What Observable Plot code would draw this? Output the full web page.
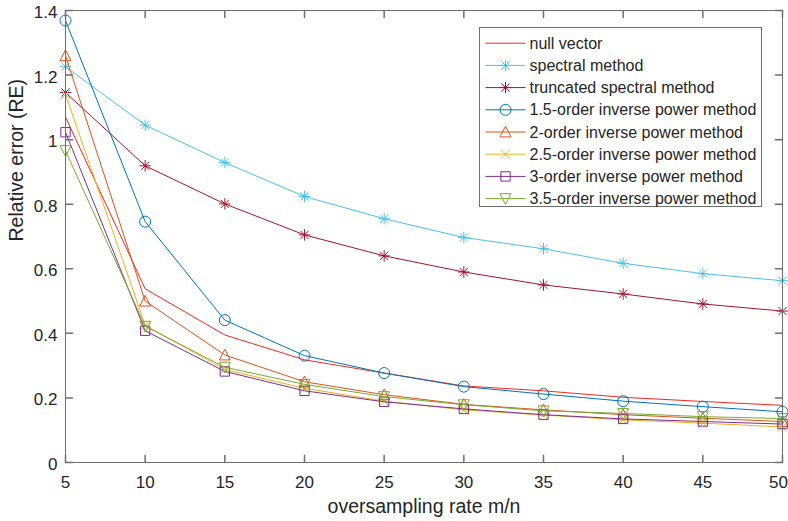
<!DOCTYPE html>
<html>
<head>
<meta charset="utf-8">
<script src="https://cdn.jsdelivr.net/npm/d3@7"></script>
<script src="https://cdn.jsdelivr.net/npm/@observablehq/plot@0.6"></script>
<style>
  html, body { margin: 0; padding: 0; background: #fff; }
  #chart { position: relative; width: 788px; height: 521px; }
</style>
</head>
<body>
<div id="chart"></div>
<script>
// ---- data ----
const rates = [5, 10, 15, 20, 25, 30, 35, 40, 45, 50];
const seriesNames = [
  "null vector",
  "spectral method",
  "truncated spectral method",
  "1.5-order inverse power method",
  "2-order inverse power method",
  "2.5-order inverse power method",
  "3-order inverse power method",
  "3.5-order inverse power method"
];
const nullVector   = [1.070, 0.538, 0.395, 0.318, 0.277, 0.237, 0.222, 0.202, 0.189, 0.177];
const spectral     = [1.226, 1.045, 0.929, 0.824, 0.755, 0.697, 0.662, 0.617, 0.585, 0.563];
const truncated    = [1.146, 0.919, 0.801, 0.705, 0.640, 0.590, 0.550, 0.522, 0.491, 0.469];
const inv15        = [1.369, 0.746, 0.441, 0.331, 0.277, 0.235, 0.212, 0.190, 0.173, 0.157];
const inv2         = [1.260, 0.500, 0.333, 0.250, 0.210, 0.180, 0.163, 0.148, 0.137, 0.127];
const inv25        = [1.140, 0.425, 0.288, 0.230, 0.190, 0.163, 0.147, 0.132, 0.122, 0.110];
const inv3         = [1.023, 0.408, 0.282, 0.222, 0.188, 0.166, 0.148, 0.135, 0.127, 0.119];
const inv35        = [0.966, 0.422, 0.295, 0.242, 0.204, 0.179, 0.160, 0.152, 0.142, 0.136];
const seriesValues = [nullVector, spectral, truncated, inv15, inv2, inv25, inv3, inv35];

const xTicks = [5, 10, 15, 20, 25, 30, 35, 40, 45, 50];
const xTickLabels = ["5", "10", "15", "20", "25", "30", "35", "40", "45", "50"];
const yTicks = [0, 0.2, 0.4, 0.6, 0.8, 1.0, 1.2, 1.4];
const yTickLabels = ["0", "0.2", "0.4", "0.6", "0.8", "1", "1.2", "1.4"];
const xLabel = "oversampling rate m/n";
const yLabel = "Relative error (RE)";

// ---- styles ----
const colors = ["#f0281e", "#4DBEEE", "#A2142F", "#0072BD", "#D95319", "#EDB120", "#7E2F8E", "#77AC30"];
const R = (size) => Math.sqrt(size / Math.PI);
const symNone = null;
const symAsterisk = { draw(c, s) { const r = R(s) * 1.05, d = r * 0.7071;
  c.moveTo(0, -r); c.lineTo(0, r); c.moveTo(-r, 0); c.lineTo(r, 0);
  c.moveTo(-d, -d); c.lineTo(d, d); c.moveTo(-d, d); c.lineTo(d, -d); } };
const symCircle = { draw(c, s) { const r = R(s); c.moveTo(r, 0); c.arc(0, 0, r, 0, 2 * Math.PI); c.closePath(); } };
const symTriUp = { draw(c, s) { const r = R(s); c.moveTo(0, -r * 1.05); c.lineTo(r * 1.0, r * 0.9); c.lineTo(-r * 1.0, r * 0.9); c.closePath(); } };
const symTriDown = { draw(c, s) { const r = R(s); c.moveTo(0, r * 1.05); c.lineTo(r * 1.0, -r * 0.9); c.lineTo(-r * 1.0, -r * 0.9); c.closePath(); } };
const symTimes = { draw(c, s) { const r = R(s) * 0.85;
  c.moveTo(-r, -r); c.lineTo(r, r); c.moveTo(-r, r); c.lineTo(r, -r); } };
const symSquare = { draw(c, s) { const r = R(s) * 0.85; c.rect(-r, -r, 2 * r, 2 * r); } };
const symbols = [symNone, symAsterisk, symAsterisk, symCircle, symTriUp, symTimes, symSquare, symTriDown];

const axisColor = "#6e6e6e";
const textColor = "#262626";
const font = "'Liberation Sans', Arial, Helvetica, sans-serif";
const tickShape = { draw(c, l) { c.moveTo(0, 0); c.lineTo(0, -l); } };

// ---- marks ----
const marks = [];
seriesNames.forEach((name, i) => {
  const rows = rates.map((x, j) => ({ x, y: seriesValues[i][j], series: name }));
  marks.push(Plot.line(rows, { x: "x", y: "y", stroke: colors[i], strokeWidth: 1 }));
  if (symbols[i]) {
    marks.push(Plot.dot(rows, { x: "x", y: "y", stroke: colors[i], fill: "none", strokeWidth: 1, r: 5.5, symbol: symbols[i] }));
  }
});

marks.push(Plot.frame({ stroke: axisColor, strokeWidth: 1 }));
// inward ticks on all four sides
marks.push(Plot.vector(xTicks, { x: d => d, frameAnchor: "bottom", length: 7, rotate: 0, anchor: "start", shape: tickShape, stroke: axisColor }));
marks.push(Plot.vector(xTicks, { x: d => d, frameAnchor: "top", length: 7, rotate: 180, anchor: "start", shape: tickShape, stroke: axisColor }));
marks.push(Plot.vector(yTicks, { y: d => d, frameAnchor: "left", length: 7, rotate: 90, anchor: "start", shape: tickShape, stroke: axisColor }));
marks.push(Plot.vector(yTicks, { y: d => d, frameAnchor: "right", length: 7, rotate: -90, anchor: "start", shape: tickShape, stroke: axisColor }));

const xFmt = d => xTickLabels[xTicks.indexOf(d)];
const lastX = xTicks[xTicks.length - 1];
marks.push(Plot.axisX({ ticks: xTicks.slice(0, -1), tickFormat: xFmt, tickSize: 0, tickPadding: 13, fontSize: 17, label: null, fill: textColor }));
marks.push(Plot.axisX({ ticks: [lastX], tickFormat: xFmt, tickSize: 0, tickPadding: 13, fontSize: 17, label: null, fill: textColor, dx: -4 }));
marks.push(Plot.axisY({ ticks: yTicks, tickFormat: d => yTickLabels[yTicks.indexOf(d)], tickSize: 0, tickPadding: 8, fontSize: 17, label: null, fill: textColor, dy: 2 }));

marks.push(Plot.text([xLabel], { frameAnchor: "bottom", dy: 44, text: d => d, fontSize: 19.5, fill: textColor, lineAnchor: "middle" }));
marks.push(Plot.text([yLabel], { frameAnchor: "left", dx: -48.5, dy: 5, rotate: -90, text: d => d, fontSize: 19.5, fill: textColor, lineAnchor: "middle" }));

const chart = Plot.plot({
  width: 788,
  height: 521,
  marginLeft: 65,
  marginRight: 6,
  marginTop: 10,
  marginBottom: 59,
  style: { fontFamily: font, color: textColor, background: "#fff" },
  x: { domain: [5, 50], axis: null },
  y: { domain: [0, 1.4], axis: null },
  marks
});
document.getElementById("chart").appendChild(chart);

// ---- legend (inside the SVG, top-right) ----
const svg = d3.select(chart);
const lg = svg.append("g").attr("transform", "translate(479.5,27.5)").attr("text-anchor", "start");
lg.append("rect").attr("width", 282).attr("height", 179)
  .attr("fill", "#fff").attr("stroke", axisColor).attr("stroke-width", 1);
seriesNames.forEach((name, i) => {
  const yy = 15.7 + i * 22.2;
  const row = lg.append("g").attr("transform", `translate(0,${yy})`);
  row.append("line").attr("x1", 6).attr("x2", 46).attr("y1", 0).attr("y2", 0)
    .attr("stroke", colors[i]).attr("stroke-width", 1);
  if (symbols[i]) {
    row.append("path").attr("transform", "translate(26,0)")
      .attr("d", d3.symbol(symbols[i], Math.PI * 5.5 * 5.5)())
      .attr("fill", "none").attr("stroke", colors[i]).attr("stroke-width", 1);
  }
  row.append("text").attr("x", 50).attr("y", 0).attr("dy", "0.35em")
    .attr("text-anchor", "start")
    .attr("font-size", 16).attr("font-family", font).attr("fill", textColor)
    .text(name);
});
</script>
</body>
</html>
